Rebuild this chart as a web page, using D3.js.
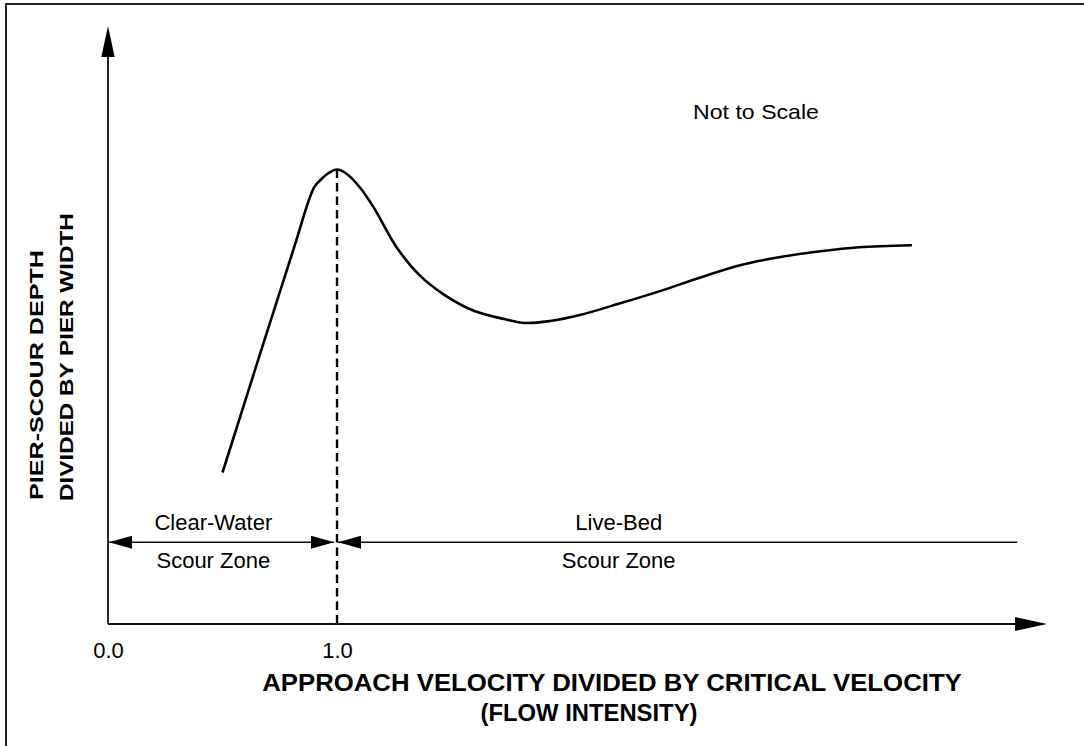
<!DOCTYPE html>
<html>
<head>
<meta charset="utf-8">
<script src="https://cdn.jsdelivr.net/npm/d3@7"></script>
<style>
  html, body { margin: 0; padding: 0; background: #fff; }
  svg { display: block; }
  svg text { font-family: "Liberation Sans", Arial, Helvetica, sans-serif; }
</style>
</head>
<body>
<svg id="chart" width="1084" height="746"></svg>
<script>
// ---- data (flow intensity V/Vc vs. relative scour depth ys/b, not to scale) ----
const flowIntensity = [0.50, 0.81, 0.90, 0.93, 0.96, 1.00, 1.04, 1.10, 1.16, 1.26, 1.36, 1.47, 1.60, 1.73, 1.82, 1.93, 2.06, 2.24, 2.41, 2.59, 2.76, 2.93, 3.11, 3.28, 3.51];
const scourDepth    = [0.76, 1.88, 2.19, 2.23, 2.26, 2.28, 2.26, 2.19, 2.09, 1.89, 1.75, 1.65, 1.57, 1.53, 1.51, 1.52, 1.55, 1.61, 1.67, 1.74, 1.80, 1.84, 1.87, 1.89, 1.90];
const tickValues = [0, 1];
const tickLabels = ["0.0", "1.0"];
const thresholdX = 1.0;
const zoneLevel = 0.41;
const zoneEndX = 3.97;
const zoneLabels = [
  { x: 0.46, lines: ["Clear-Water", "Scour Zone"] },
  { x: 2.23, lines: ["Live-Bed", "Scour Zone"] }
];
const xTitle = ["APPROACH VELOCITY DIVIDED BY CRITICAL VELOCITY", "(FLOW INTENSITY)"];
const yTitle = ["PIER-SCOUR DEPTH", "DIVIDED BY PIER WIDTH"];
const note = "Not to Scale";

// ---- layout ----
const svg = d3.select("#chart");
const x = d3.scaleLinear().domain([0, 4.1]).range([108, 1047]);
const y = d3.scaleLinear().domain([0, 3.0]).range([624, 26]);

// frame (left and top edges visible)
svg.append("path")
  .attr("d", "M6,746 L6,4 L1084,4")
  .attr("fill", "none").attr("stroke", "#222").attr("stroke-width", 2);

function arrowHead(tipX, tipY, dir, len, half) {
  let pts;
  if (dir === "up") pts = [[tipX, tipY], [tipX - half, tipY + len], [tipX + half, tipY + len]];
  else if (dir === "right") pts = [[tipX, tipY], [tipX - len, tipY - half], [tipX - len, tipY + half]];
  else pts = [[tipX, tipY], [tipX + len, tipY - half], [tipX + len, tipY + half]];
  svg.append("path").attr("d", d3.line()(pts) + "Z").attr("fill", "#000");
}

// stretched text helper: scales glyphs horizontally to a target length
function stretchedText(cx, cy, rot, anchor, size, weight, target, str) {
  const g = svg.append("g").attr("transform", `translate(${cx},${cy}) rotate(${rot})`);
  const t = g.append("text")
    .attr("text-anchor", anchor).attr("font-size", size)
    .attr("font-weight", weight).attr("fill", "#000").text(str);
  const w = t.node().getComputedTextLength();
  t.attr("transform", `scale(${target / w},1)`);
  return t;
}

// axes lines
svg.append("line")
  .attr("x1", x(0)).attr("x2", x(0)).attr("y1", y(0)).attr("y2", y(3.0) + 20)
  .attr("stroke", "#111").attr("stroke-width", 1.8);
arrowHead(x(0), y(3.0), "up", 31, 6.7);

svg.append("line")
  .attr("x1", x(0)).attr("x2", x(4.1) - 20).attr("y1", y(0)).attr("y2", y(0))
  .attr("stroke", "#111").attr("stroke-width", 1.8);
arrowHead(x(4.1), y(0), "right", 32, 7);

// tick labels via d3 axis
const xAxis = d3.axisBottom(x).tickValues(tickValues).tickSize(0)
  .tickFormat((d, i) => tickLabels[i]);
const gx = svg.append("g").attr("transform", `translate(0,${y(0)})`).call(xAxis);
gx.attr("font-family", null).attr("font-size", null);
gx.select(".domain").remove();
gx.selectAll("text")
  .attr("y", 34).attr("dy", 0)
  .style("font-family", "'Liberation Sans', Arial, sans-serif")
  .style("font-size", "22px")
  .attr("fill", "#000");

// dashed threshold line
svg.append("line")
  .attr("x1", x(thresholdX)).attr("x2", x(thresholdX))
  .attr("y1", y(d3.max(scourDepth))).attr("y2", y(0))
  .attr("stroke", "#000").attr("stroke-width", 2.4)
  .attr("stroke-dasharray", "8.5,5");

// zone dimension lines
const zy = y(zoneLevel);
svg.append("line")
  .attr("x1", x(0) + 1).attr("x2", x(thresholdX) - 3).attr("y1", zy).attr("y2", zy)
  .attr("stroke", "#111").attr("stroke-width", 1.3);
arrowHead(x(0) + 1, zy, "left", 23, 6.5);
arrowHead(x(thresholdX) - 3, zy, "right", 23, 6.5);
svg.append("line")
  .attr("x1", x(thresholdX) + 1).attr("x2", x(zoneEndX)).attr("y1", zy).attr("y2", zy)
  .attr("stroke", "#111").attr("stroke-width", 1.3);
arrowHead(x(thresholdX) + 1, zy, "left", 23, 6.5);

// zone labels
zoneLabels.forEach(z => {
  z.lines.forEach((t, i) => {
    svg.append("text")
      .attr("x", x(z.x)).attr("y", zy + (i === 0 ? -12 : 26))
      .attr("text-anchor", "middle").attr("font-size", 22).attr("fill", "#000")
      .text(t);
  });
});

// curve
const pts = flowIntensity.map((v, i) => [v, scourDepth[i]]);
svg.append("path")
  .datum(pts)
  .attr("d", d3.line().x(d => x(d[0])).y(d => y(d[1])).curve(d3.curveCatmullRom.alpha(0.5)))
  .attr("fill", "none").attr("stroke", "#000").attr("stroke-width", 2.6)
  .attr("stroke-linejoin", "round");

// note
stretchedText(756, 119, 0, "middle", 21, "normal", 126, note);

// x title
stretchedText(612, 691, 0, "middle", 23, "bold", 700, xTitle[0]);
stretchedText(589, 721, 0, "middle", 23, "bold", 217, xTitle[1]);

// y title (rotated)
stretchedText(42.5, 500, -90, "start", 18, "bold", 250, yTitle[0]);
stretchedText(73, 501, -90, "start", 18, "bold", 288, yTitle[1]);
</script>
</body>
</html>
